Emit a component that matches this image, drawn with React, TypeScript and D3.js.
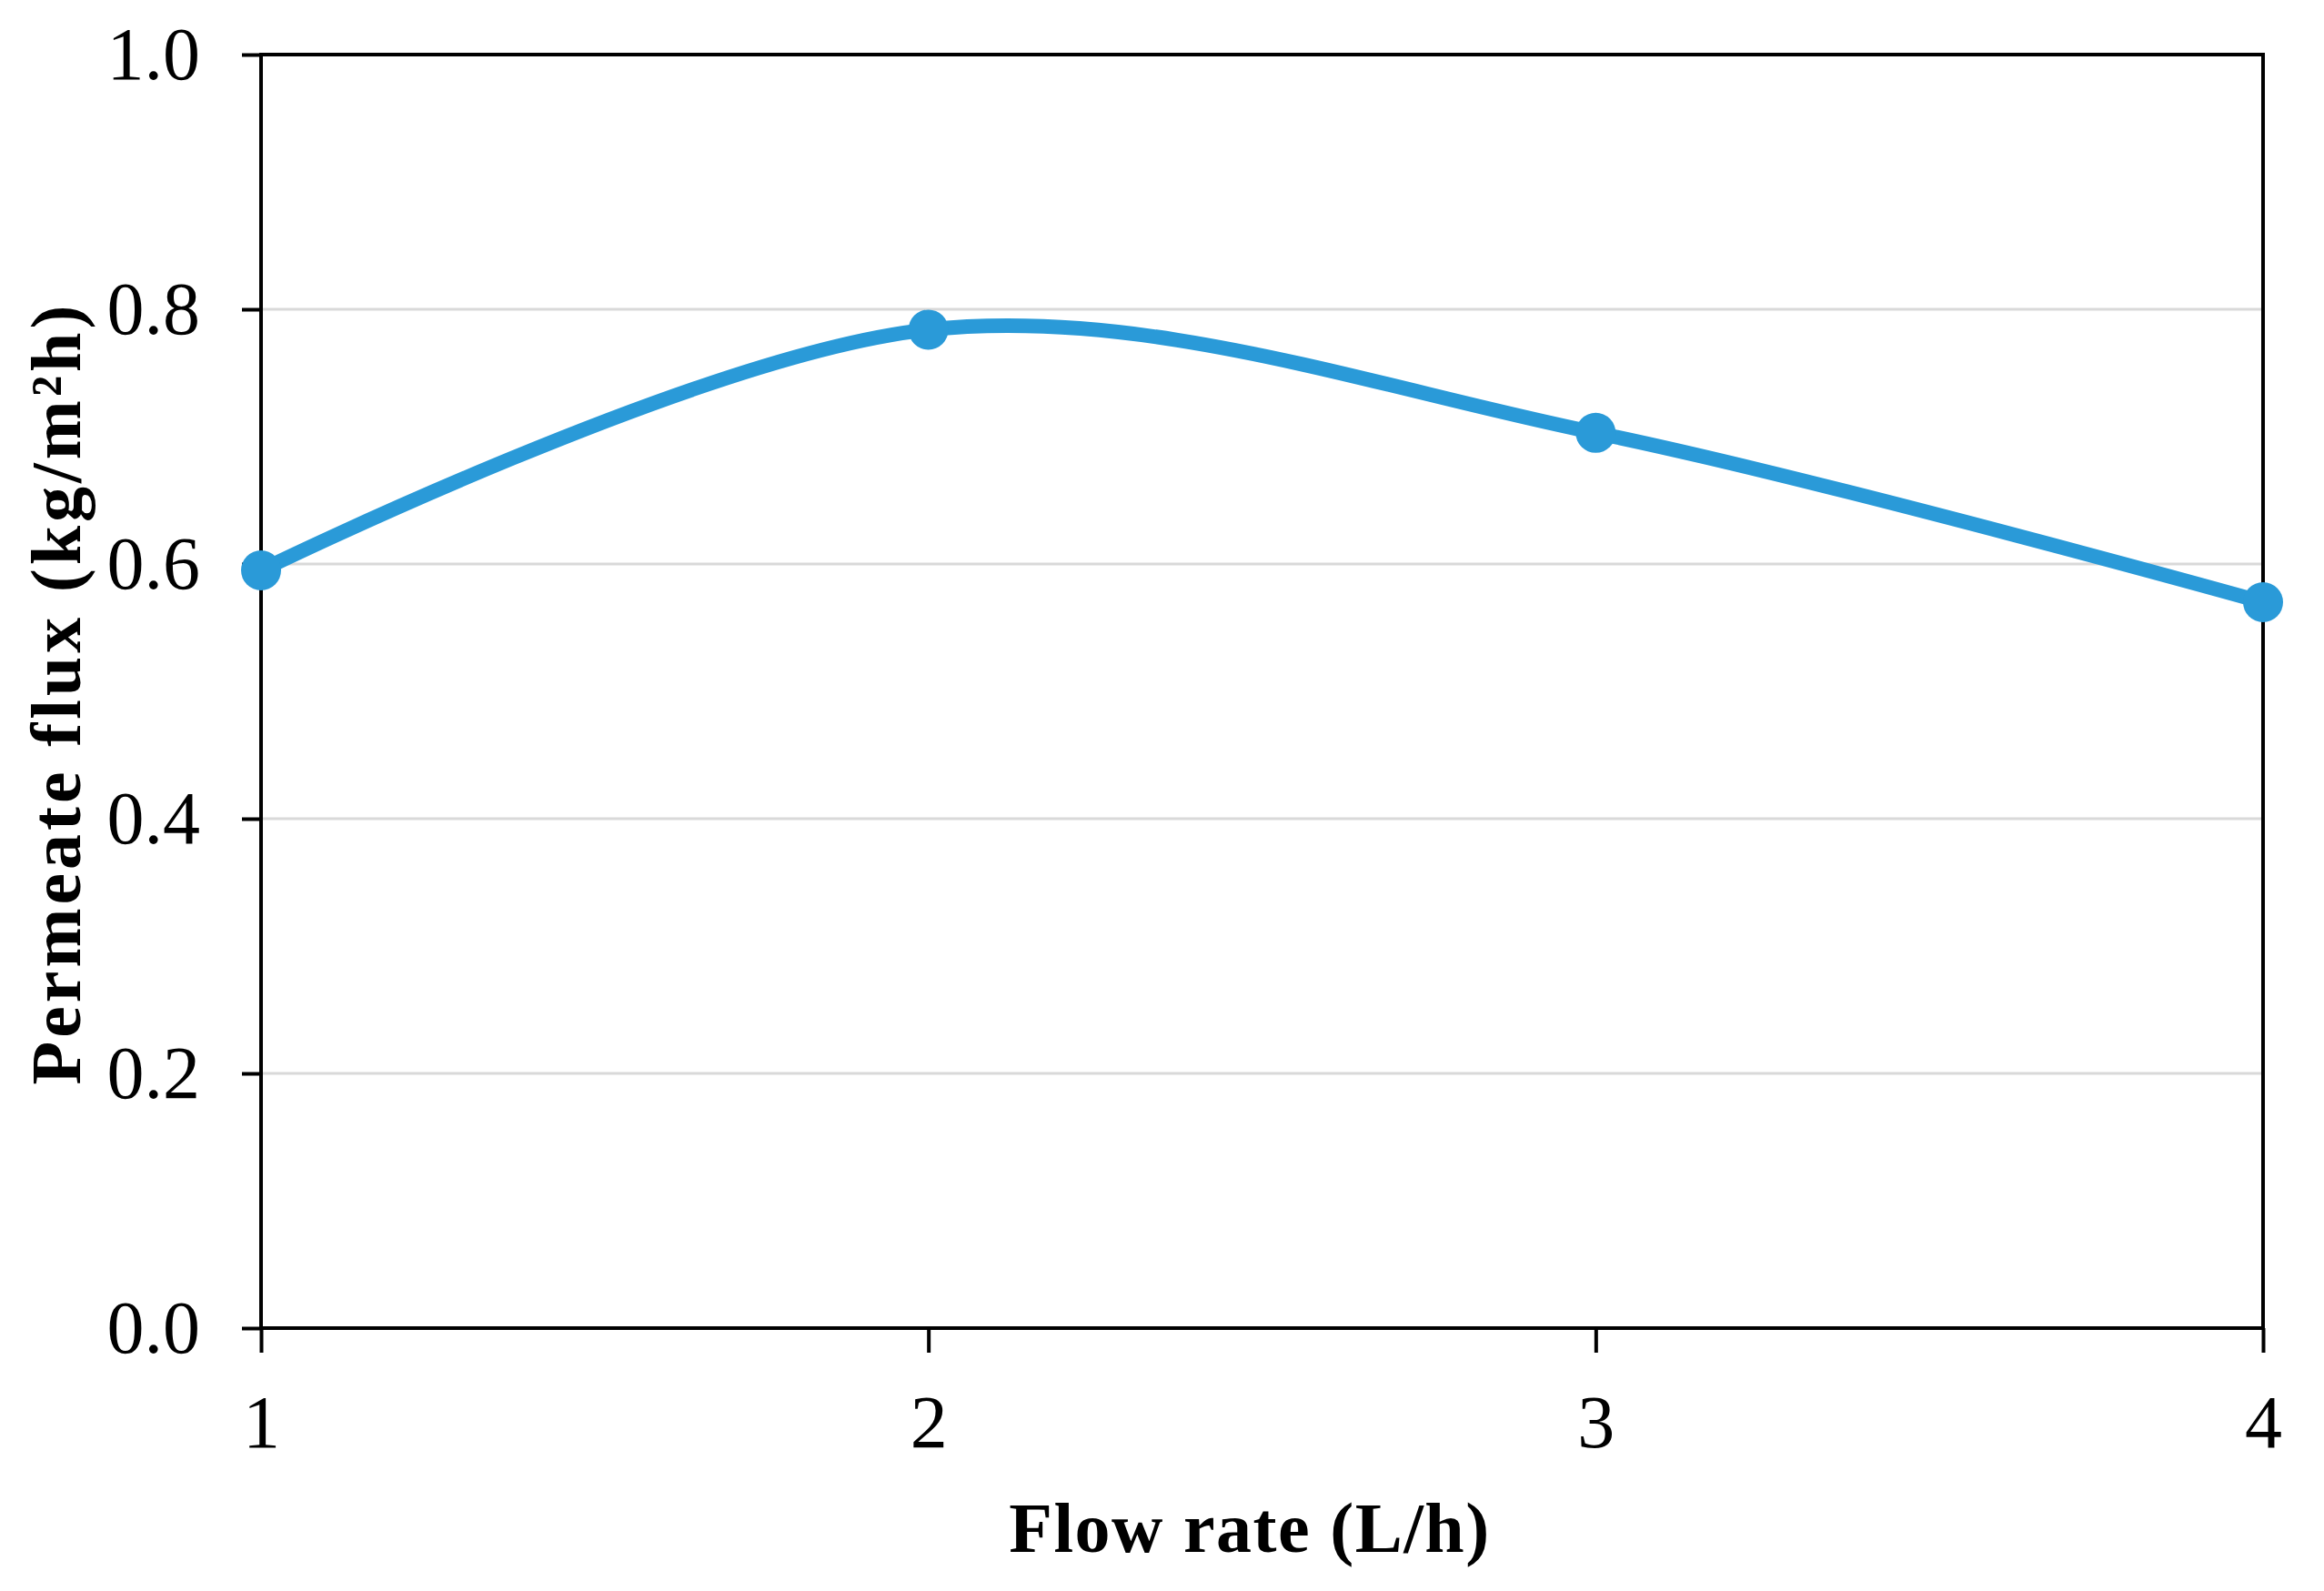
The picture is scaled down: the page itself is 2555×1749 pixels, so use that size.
import { useEffect, useRef } from "react";
import * as d3 from "d3";

const flowRates = [1, 2, 3, 4];
const fluxValues = [0.595, 0.784, 0.703, 0.57];
const yTicks = [0, 0.2, 0.4, 0.6, 0.8, 1.0];
const xTicks = [1, 2, 3, 4];

const W = 2555;
const H = 1749;

const App = () => {
  const svgRef = useRef<SVGSVGElement>(null);

  useEffect(() => {
    const svg = d3.select(svgRef.current);
    svg.selectAll("*").remove();

    const margin = { top: 60, right: 67, bottom: 289, left: 287 };
    const x = d3.scaleLinear().domain([1, 4]).range([margin.left, W - margin.right]);
    const y = d3.scaleLinear().domain([0, 1]).range([H - margin.bottom, margin.top]);

    svg.append("rect").attr("width", W).attr("height", H).attr("fill", "#ffffff");

    // gridlines
    svg.append("g")
      .selectAll("line")
      .data(yTicks.filter(t => t > 0 && t < 1))
      .enter()
      .append("line")
      .attr("x1", x(1))
      .attr("x2", x(4))
      .attr("y1", d => y(d))
      .attr("y2", d => y(d))
      .attr("stroke", "#d9d9d9")
      .attr("stroke-width", 3);

    // frame
    svg.append("rect")
      .attr("x", x(1))
      .attr("y", y(1))
      .attr("width", x(4) - x(1))
      .attr("height", y(0) - y(1))
      .attr("fill", "none")
      .attr("stroke", "#000")
      .attr("stroke-width", 4);

    // y axis
    const yAxis = svg.append("g")
      .attr("transform", `translate(${x(1)},0)`)
      .call(d3.axisLeft(y).tickValues(yTicks).tickFormat(d3.format(".1f")).tickSize(21).tickPadding(46));
    yAxis.select(".domain").remove();
    yAxis.selectAll("line").attr("stroke", "#000").attr("stroke-width", 4);
    yAxis.selectAll("text")
      .attr("font-family", "'Liberation Serif', 'Times New Roman', serif")
      .attr("font-size", 82)
      .attr("fill", "#000");

    // x axis
    const xAxis = svg.append("g")
      .attr("transform", `translate(0,${y(0)})`)
      .call(d3.axisBottom(x).tickValues(xTicks).tickFormat(d3.format("d")).tickSize(27).tickPadding(46));
    xAxis.select(".domain").remove();
    xAxis.selectAll("line").attr("stroke", "#000").attr("stroke-width", 4);
    xAxis.selectAll("text")
      .attr("font-family", "'Liberation Serif', 'Times New Roman', serif")
      .attr("font-size", 82)
      .attr("fill", "#000");

    const data = flowRates.map((f, i) => ({ f, v: fluxValues[i] }));

    const line = d3.line<{ f: number; v: number }>()
      .x(d => x(d.f))
      .y(d => y(d.v))
      .curve(d3.curveCardinal.tension(0));

    svg.append("path")
      .datum(data)
      .attr("d", line)
      .attr("fill", "none")
      .attr("stroke", "#2a9ad8")
      .attr("stroke-width", 16)
      .attr("stroke-linecap", "round");

    svg.append("g")
      .selectAll("circle")
      .data(data)
      .enter()
      .append("circle")
      .attr("cx", d => x(d.f))
      .attr("cy", d => y(d.v))
      .attr("r", 22)
      .attr("fill", "#2a9ad8");

    // axis titles
    svg.append("text")
      .attr("x", 1374)
      .attr("y", 1706)
      .attr("text-anchor", "middle")
      .attr("font-family", "'Liberation Serif', 'Times New Roman', serif")
      .attr("font-weight", "bold")
      .attr("font-size", 78)
      .attr("letter-spacing", 1.5)
      .attr("fill", "#000")
      .text("Flow rate (L/h)");

    svg.append("text")
      .attr("transform", `translate(88,${(y(0) + y(1)) / 2 + 2}) rotate(-90)`)
      .attr("text-anchor", "middle")
      .attr("font-family", "'Liberation Serif', 'Times New Roman', serif")
      .attr("font-weight", "bold")
      .attr("font-size", 78)
      .attr("letter-spacing", 4)
      .attr("fill", "#000")
      .text("Permeate flux (kg/m²h)");
  }, []);

  return (
    <div style={{ position: "absolute", left: 0, top: 0 }}>
      <svg ref={svgRef} width={W} height={H} style={{ display: "block" }}></svg>
    </div>
  );
};

export default App;
